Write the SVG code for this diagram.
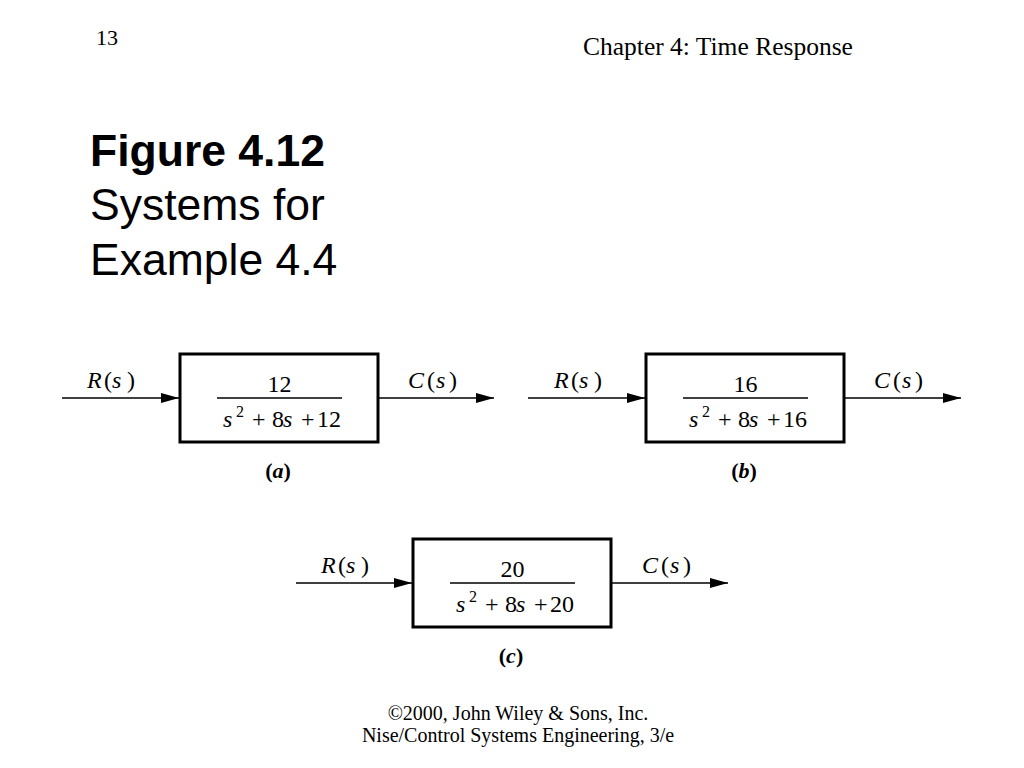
<svg xmlns="http://www.w3.org/2000/svg" width="1024" height="768" viewBox="0 0 1024 768">
<defs>
<style>
.serif{font-family:"Liberation Serif","Times New Roman",serif;fill:#000}
.sans{font-family:"Liberation Sans",Arial,sans-serif;fill:#000}
.tf{font-size:24px}
.it{font-style:italic}
.box{fill:#fff;stroke:#000;stroke-width:3}
.bar{stroke:#000;stroke-width:1.6}
.wire{stroke:#000;stroke-width:1.6;fill:none;marker-end:url(#arr)}
.cap{font-size:22px;font-weight:bold;text-anchor:middle}
</style>
<marker id="arr" markerUnits="userSpaceOnUse" markerWidth="18" markerHeight="10" refX="18" refY="5" orient="auto">
<path d="M0,0 L18,5 L0,10 z" fill="#000"/>
</marker>
</defs>
<rect width="1024" height="768" fill="#fff"/>
<text class="serif" x="96" y="45" font-size="22">13</text>
<text class="serif" x="583" y="55" font-size="25.5">Chapter 4: Time Response</text>
<text class="sans" x="90" y="166" font-size="44.5" font-weight="bold">Figure 4.12</text>
<text class="sans" x="90" y="220" font-size="44.5">Systems for</text>
<text class="sans" x="90" y="275" font-size="44.5">Example 4.4</text>
<text class="serif" x="518" y="720" font-size="20" text-anchor="middle">©2000, John Wiley &amp; Sons, Inc.</text>
<text class="serif" x="518" y="742" font-size="20" text-anchor="middle">Nise/Control Systems Engineering, 3/e</text>

<g id="connectors">
<line class="wire" x1="62" y1="398" x2="179" y2="398"/>
<line class="wire" x1="378" y1="398" x2="494" y2="398"/>
<line class="wire" x1="528" y1="398" x2="645" y2="398"/>
<line class="wire" x1="844" y1="398" x2="961" y2="398"/>
<line class="wire" x1="296" y1="583" x2="412" y2="583"/>
<line class="wire" x1="611" y1="583" x2="728" y2="583"/>
</g>

<g id="signal-labels" class="serif tf">
<text y="388"><tspan class="it" x="87">R</tspan><tspan x="104">(</tspan><tspan class="it" x="112">s</tspan><tspan x="127">)</tspan></text>
<text y="388"><tspan class="it" x="408">C</tspan><tspan x="427">(</tspan><tspan class="it" x="436">s</tspan><tspan x="449">)</tspan></text>
<text y="388"><tspan class="it" x="554">R</tspan><tspan x="571">(</tspan><tspan class="it" x="579">s</tspan><tspan x="594">)</tspan></text>
<text y="388"><tspan class="it" x="874">C</tspan><tspan x="893">(</tspan><tspan class="it" x="902">s</tspan><tspan x="915">)</tspan></text>
<text y="573"><tspan class="it" x="321">R</tspan><tspan x="338">(</tspan><tspan class="it" x="346">s</tspan><tspan x="361">)</tspan></text>
<text y="573"><tspan class="it" x="642">C</tspan><tspan x="661">(</tspan><tspan class="it" x="670">s</tspan><tspan x="683">)</tspan></text>
</g>

<g id="block-a" transform="translate(180,354)">
<rect class="box" x="0" y="0" width="198" height="88"/>
<text class="serif tf" x="99.5" y="38" text-anchor="middle">12</text>
<line class="bar" x1="37" y1="44" x2="162" y2="44"/>
<text class="serif tf" y="73"><tspan class="it" x="43">s</tspan><tspan x="56" dy="-10" font-size="16">2</tspan><tspan x="72" dy="10">+</tspan><tspan x="92">8</tspan><tspan class="it" x="103">s</tspan><tspan x="121">+</tspan><tspan x="137">12</tspan></text>
<text class="serif cap" x="98" y="124">(<tspan class="it">a</tspan>)</text>
</g>

<g id="block-b" transform="translate(646,354)">
<rect class="box" x="0" y="0" width="198" height="88"/>
<text class="serif tf" x="99.5" y="38" text-anchor="middle">16</text>
<line class="bar" x1="37" y1="44" x2="162" y2="44"/>
<text class="serif tf" y="73"><tspan class="it" x="43">s</tspan><tspan x="56" dy="-10" font-size="16">2</tspan><tspan x="72" dy="10">+</tspan><tspan x="92">8</tspan><tspan class="it" x="103">s</tspan><tspan x="121">+</tspan><tspan x="137">16</tspan></text>
<text class="serif cap" x="98" y="124">(<tspan class="it">b</tspan>)</text>
</g>

<g id="block-c" transform="translate(413,539)">
<rect class="box" x="0" y="0" width="198" height="88"/>
<text class="serif tf" x="99.5" y="38" text-anchor="middle">20</text>
<line class="bar" x1="37" y1="44" x2="162" y2="44"/>
<text class="serif tf" y="73"><tspan class="it" x="43">s</tspan><tspan x="56" dy="-10" font-size="16">2</tspan><tspan x="72" dy="10">+</tspan><tspan x="92">8</tspan><tspan class="it" x="103">s</tspan><tspan x="121">+</tspan><tspan x="137">20</tspan></text>
<text class="serif cap" x="98" y="124">(<tspan class="it">c</tspan>)</text>
</g>
</svg>
